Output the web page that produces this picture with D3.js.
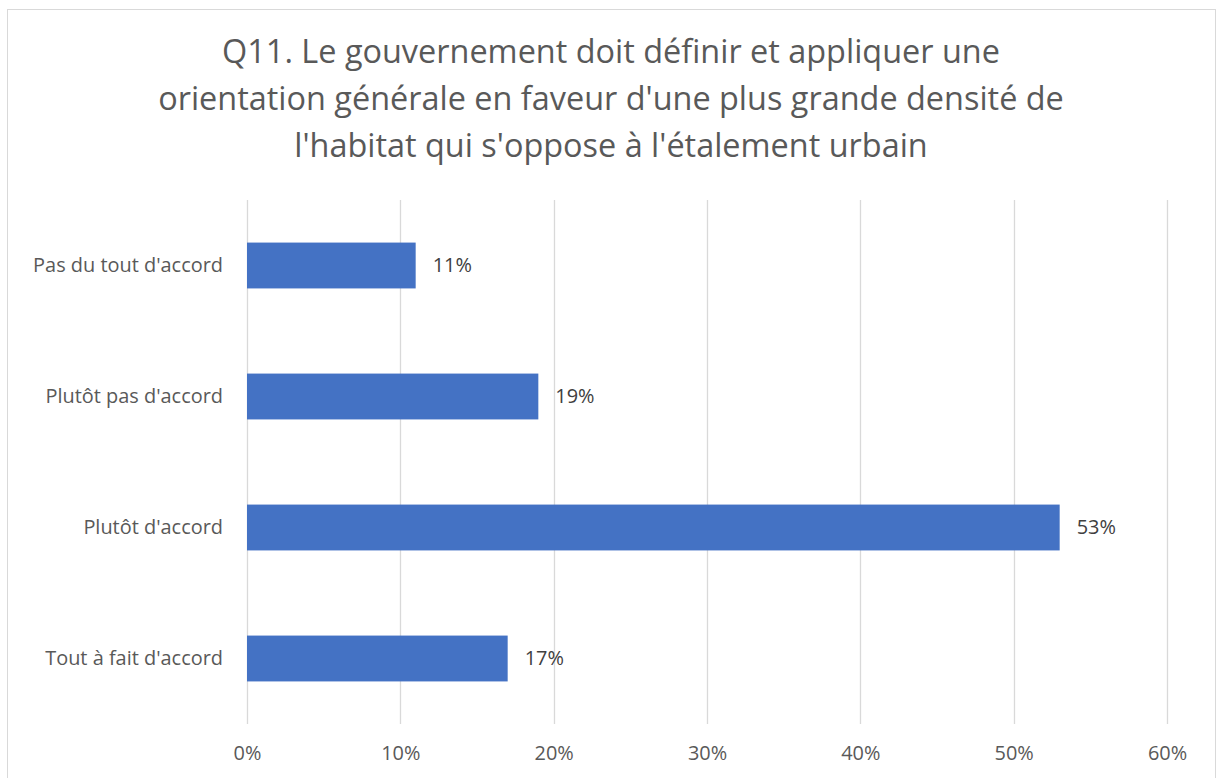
<!DOCTYPE html>
<html><head><meta charset="utf-8">
<script src="https://cdn.jsdelivr.net/npm/d3@7"></script>
<style>body{margin:0;background:#fff;}svg{display:block;}</style>
</head><body>
<script>
const categories = ["Pas du tout d'accord", "Plutôt pas d'accord", "Plutôt d'accord", "Tout à fait d'accord"];
const values = [0.11, 0.19, 0.53, 0.17];
const xTicks = [0, 0.1, 0.2, 0.3, 0.4, 0.5, 0.6];
const titleLines = ["Q11. Le gouvernement doit définir et appliquer une", "orientation générale en faveur d'une plus grande densité de", "l'habitat qui s'oppose à l'étalement urbain"];

const W = 1221, H = 778;
const font = "'Open Sans', sans-serif";
const svg = d3.select("body").append("svg").attr("width", W).attr("height", H);
svg.append("rect").attr("x", 7.5).attr("y", 9.5).attr("width", 1208).attr("height", 800)
  .attr("fill", "#fff").attr("stroke", "#d9d9d9").attr("stroke-width", 1);

const title = svg.append("g").selectAll("text").data(titleLines).join("text")
  .attr("x", 611).attr("y", (d, i) => 63 + i * 47)
  .attr("text-anchor", "middle").attr("font-family", font).attr("font-size", 30)
  .attr("fill", "#595959").text(d => d);
// fit first line to reference width (~778px)
const w0 = title.node().getComputedTextLength();
title.attr("font-size", 30 * 778 / w0);

const x = d3.scaleLinear().domain([0, 0.6]).range([247, 1167]);
const y = d3.scaleBand().domain(categories).range([200, 724]).paddingInner(0.65).paddingOuter(0.325);

svg.append("g").selectAll("line").data(xTicks).join("line")
  .attr("x1", d => Math.round(x(d)) + 0.5).attr("x2", d => Math.round(x(d)) + 0.5)
  .attr("y1", 200).attr("y2", 724).attr("stroke", "#d9d9d9").attr("stroke-width", 1.3);

const xAxis = svg.append("g").attr("transform", "translate(0,724)")
  .call(d3.axisBottom(x).tickValues(xTicks).tickFormat(d3.format(".0%")).tickSize(0).tickPadding(22));
xAxis.select(".domain").remove();
xAxis.selectAll("text").attr("font-family", font).attr("font-size", 18).attr("fill", "#595959");

svg.append("g").selectAll("rect").data(values).join("rect")
  .attr("x", x(0)).attr("y", (d, i) => y(categories[i]))
  .attr("width", d => x(d) - x(0)).attr("height", y.bandwidth()).attr("fill", "#4472C4");

const yAxis = svg.append("g").attr("transform", "translate(247,0)")
  .call(d3.axisLeft(y).tickSize(0).tickPadding(24));
yAxis.select(".domain").remove();
const yl = yAxis.selectAll("text").attr("font-family", font).attr("font-size", 18).attr("fill", "#595959");
const w1 = yl.node().getComputedTextLength();
const labelSize = 18 * 190 / w1;
yl.attr("font-size", labelSize);
xAxis.selectAll("text").attr("font-size", labelSize);

svg.append("g").selectAll("text").data(values).join("text")
  .attr("x", d => x(d) + 17).attr("y", (d, i) => y(categories[i]) + y.bandwidth() / 2)
  .attr("dy", "0.35em").attr("font-family", font).attr("font-size", labelSize).attr("fill", "#404040")
  .text(d => d3.format(".0%")(d));
</script>
</body></html>
